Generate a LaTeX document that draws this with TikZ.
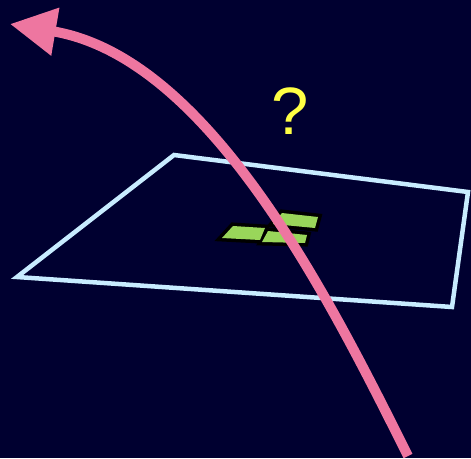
\documentclass[tikz,border=0pt]{standalone}
\usepackage{fontspec}
\setmainfont{Liberation Sans}
\usetikzlibrary{arrows.meta}
\definecolor{bg}{HTML}{000030}
\definecolor{planec}{HTML}{C8ECFF}
\definecolor{tilec}{HTML}{99D65A}
\definecolor{pinkc}{HTML}{EE76A0}
\definecolor{qc}{HTML}{FFFF44}
\tikzset{
  plane/.style={draw=planec, line width=4.5pt, line join=miter},
  tileback/.style={fill=black, draw=black, line width=7pt, line join=miter},
  tile/.style={fill=tilec},
  ray/.style={draw=pinkc, line width=10pt, -{Triangle[length=46pt,width=46pt]}},
}
\begin{document}
\begin{tikzpicture}[x=1pt,y=-1pt]
\fill[bg] (0,0) rectangle (471,458);
\useasboundingbox (0,0) rectangle (471,458);
\draw[plane] (174,155) -- (468,192) -- (452,307) -- (17,277) -- cycle;
\path[tileback] (222,238) -- (233,226) -- (265,228) -- (260,240) -- cycle;
\path[tileback] (282,213) -- (318,217) -- (315,228) -- (273,224) -- cycle;
\path[tileback] (268,231) -- (307,235) -- (305,243) -- (262,242) -- cycle;
\path[tile] (222,238) -- (233,226) -- (265,228) -- (260,240) -- cycle;
\path[tile] (282,213) -- (318,217) -- (315,228) -- (273,224) -- cycle;
\path[tile] (268,231) -- (307,235) -- (305,243) -- (262,242) -- cycle;
\coordinate (s) at (408,456);
\coordinate (e) at (10,24);
\draw[ray] (s) .. controls (330,300) and (210,58) .. (e);
\node[text=qc, font=\fontsize{67}{67}\selectfont] (q) at (290,111) {?};
\end{tikzpicture}
\end{document}
